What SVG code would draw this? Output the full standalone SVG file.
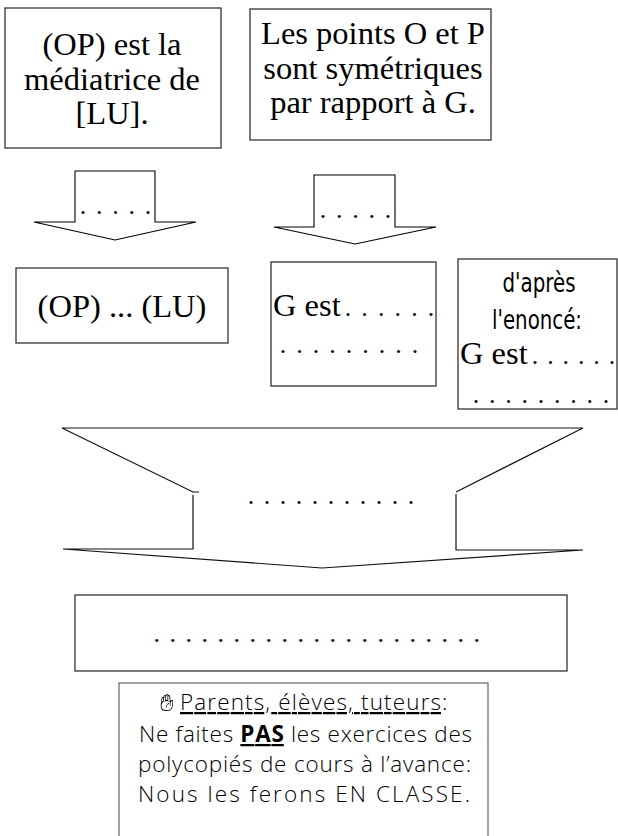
<svg xmlns="http://www.w3.org/2000/svg" width="618" height="836" viewBox="0 0 618 836">
<style>
.box{fill:#fff;stroke:#333;stroke-width:1.3}
.arr{fill:#fff;stroke:#000;stroke-width:1.1;stroke-linejoin:miter}
.ln{fill:none;stroke:#111;stroke-width:1.2}
.t{font-family:"Liberation Serif","Times New Roman",serif;font-size:32.5px;fill:#000}
.d{font-family:"Liberation Serif","Times New Roman",serif;font-size:26px;fill:#000}
.n{font-family:"Liberation Sans Narrow","DejaVu Sans Condensed","Liberation Sans",sans-serif;font-size:26px;fill:#000}
.h{font-family:"Open Sans","Noto Sans",sans-serif;font-weight:300;font-size:22.5px;fill:#000}
</style>
<defs>
<filter id="gray"><feColorMatrix type="saturate" values="0"/></filter>
</defs>
<rect width="618" height="836" fill="#fff"/>
<g id="n1">
<rect class="box" x="5" y="8" width="216" height="140"/>
<text class="t" text-anchor="middle"><tspan x="112" y="55">(OP) est la</tspan><tspan x="112" y="89.5">médiatrice de</tspan><tspan x="112" y="124">[LU].</tspan></text>
</g>
<g id="n2">
<rect class="box" x="250" y="9" width="241" height="131"/>
<text class="t" text-anchor="middle"><tspan x="373" y="44">Les points O et P</tspan><tspan x="373" y="78.5">sont symétriques</tspan><tspan x="373" y="113">par rapport à G.</tspan></text>
</g>
<g id="n3">
<rect class="box" x="16" y="268" width="212" height="75"/>
<text class="t" x="122" y="317" text-anchor="middle">(OP) ... (LU)</text>
</g>
<g id="n4">
<rect class="box" x="271" y="262" width="165" height="124"/>
<text class="t" x="273" y="316">G est</text>
<text class="d" x="344.75" y="316" textLength="89.5" lengthAdjust="spacing">. . . . . .</text>
<text class="d" x="279.75" y="353" textLength="138.5" lengthAdjust="spacing">. . . . . . . . .</text>
</g>
<g id="n5">
<rect class="box" x="458" y="259" width="159" height="150"/>
<text class="n" x="539" y="292" text-anchor="middle" textLength="73" lengthAdjust="spacingAndGlyphs">d'après</text>
<text class="n" x="537" y="329" text-anchor="middle" textLength="90" lengthAdjust="spacingAndGlyphs">l'enoncé:</text>
<text class="t" x="460" y="364">G est</text>
<text class="d" x="531.75" y="364" textLength="83.5" lengthAdjust="spacing">. . . . . .</text>
<text class="d" x="472.75" y="403" textLength="136.5" lengthAdjust="spacing">. . . . . . . . .</text>
</g>
<g id="n6">
<rect class="box" x="75" y="595" width="492" height="76"/>
<text class="d" x="153.45" y="642" textLength="326.5" lengthAdjust="spacing">. . . . . . . . . . . . . . . . . . . . .</text>
</g>
<g id="n7">
<rect class="box" x="119" y="683" width="369" height="170" style="stroke:#555;stroke-width:1.1"/>
<text x="160" y="711" font-family="DejaVu Sans" font-size="24" filter="url(#gray)">✋&#xFE0E;</text>
<text class="h" x="180" y="710" textLength="261" lengthAdjust="spacing" text-decoration="underline">Parents, élèves, tuteurs</text>
<text class="h" x="442" y="710">:</text>
<text class="h" x="139" y="742" textLength="333" lengthAdjust="spacing">Ne faites <tspan font-weight="700" text-decoration="underline">PAS</tspan> les exercices des</text>
<text class="h" x="138" y="772" textLength="333" lengthAdjust="spacing">polycopiés de cours à l’avance:</text>
<text class="h" x="138" y="802" textLength="332" lengthAdjust="spacing">Nous les ferons EN CLASSE.</text>
</g>
<g id="connectors">
<g id="a1">
<polygon class="arr" points="75,171 155,171 155,222 196,222 115,240 34,222 75,222"/>
<text class="d" x="79.75" y="214" textLength="71.5" lengthAdjust="spacing">. . . . .</text>
</g>
<g id="a2">
<polygon class="arr" points="314,175 395,175 395,227 436,227 355,244 274,227 314,227"/>
<text class="d" x="319.75" y="218" textLength="71.5" lengthAdjust="spacing">. . . . .</text>
</g>
<g id="a3">
<path class="ln" d="M62,428 H583 L456,492 M62,428 L193,492 H199 M193,495 V549 H63 L322,568 L583,550 H456 V494"/>
<text class="d" x="247.75" y="504" textLength="166.5" lengthAdjust="spacing">. . . . . . . . . . .</text>
</g>
</g>
</svg>
